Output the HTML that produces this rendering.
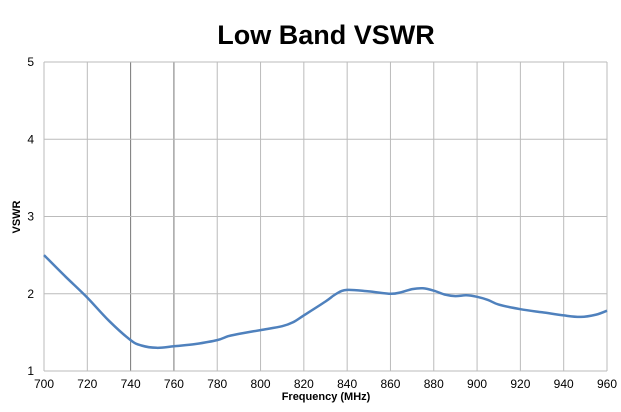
<!DOCTYPE html>
<html><head><meta charset="utf-8"><style>
body{margin:0;background:#fff;width:621px;height:407px;overflow:hidden;font-family:"Liberation Sans",Arial,sans-serif}
</style></head><body>
<svg id="chart" width="621" height="407" xmlns="http://www.w3.org/2000/svg">
<text x="326" y="44" text-anchor="middle" font-size="27" font-weight="bold" fill="#000">Low Band VSWR</text>
<g id="grid"></g>
<g id="ticks" font-size="12" fill="#000"></g>
<text x="326" y="400" text-anchor="middle" font-size="11" font-weight="bold">Frequency (MHz)</text>
<text transform="translate(20,217) rotate(-90)" text-anchor="middle" font-size="11" font-weight="bold">VSWR</text>
<path id="series" fill="none" stroke="#4f81bd" stroke-width="2.5" stroke-linejoin="round"/>
</svg>
<script>
const xTicks=[700,720,740,760,780,800,820,840,860,880,900,920,940,960];
const yTicks=[1,2,3,4,5];
const freqs=[700,710,720,730,740,745,752,760,770,780,785,790,800,810,815,820,830,835,840,850,860,865,870,875,880,885,890,895,900,905,910,920,930,940,948,955,960];
const vswr=[2.5,2.22,1.95,1.65,1.4,1.33,1.3,1.32,1.35,1.4,1.45,1.48,1.53,1.58,1.63,1.72,1.9,2.0,2.05,2.03,2.0,2.02,2.06,2.07,2.04,1.99,1.97,1.98,1.96,1.92,1.86,1.8,1.76,1.72,1.7,1.73,1.78];
const L=44,R=607,T=62,B=371,ns="http://www.w3.org/2000/svg";
const xs=v=>L+(v-700)/(960-700)*(R-L);
const ys=v=>B-(v-1)/(5-1)*(B-T);
const grid=document.getElementById('grid'),ticks=document.getElementById('ticks');
function mk(tag,a,p){const e=document.createElementNS(ns,tag);for(const k in a)e.setAttribute(k,a[k]);p.appendChild(e);return e;}
xTicks.forEach(t=>{
  const dark=(t===740||t===760);
  const ln=mk('line',{x1:xs(t),x2:xs(t),y1:T,y2:B,stroke:dark?'#777':'#bbb','stroke-width':1},grid);
  
  
  const tx=mk('text',{x:xs(t),y:388,'text-anchor':'middle'},ticks);tx.textContent=t;
  
  
});
yTicks.forEach(t=>{
  const ln=mk('line',{x1:L,x2:R,y1:ys(t),y2:ys(t),stroke:'#bbb','stroke-width':1},grid);
  
  
  const tx=mk('text',{x:34,y:ys(t)+4,'text-anchor':'end'},ticks);tx.textContent=t;
  
  
});
const pts=freqs.map((f,i)=>[xs(f),ys(vswr[i])]);
let d='M'+pts[0][0].toFixed(1)+','+pts[0][1].toFixed(1);
for(let i=0;i<pts.length-1;i++){
  const p0=pts[Math.max(0,i-1)],p1=pts[i],p2=pts[i+1],p3=pts[Math.min(pts.length-1,i+2)];
  const c1=[p1[0]+(p2[0]-p0[0])/6,p1[1]+(p2[1]-p0[1])/6];
  const c2=[p2[0]-(p3[0]-p1[0])/6,p2[1]-(p3[1]-p1[1])/6];
  d+=' C'+c1.map(v=>v.toFixed(1)).join(',')+' '+c2.map(v=>v.toFixed(1)).join(',')+' '+p2.map(v=>v.toFixed(1)).join(',');
}
document.getElementById('series').setAttribute('d',d);
</script>
</body></html>
